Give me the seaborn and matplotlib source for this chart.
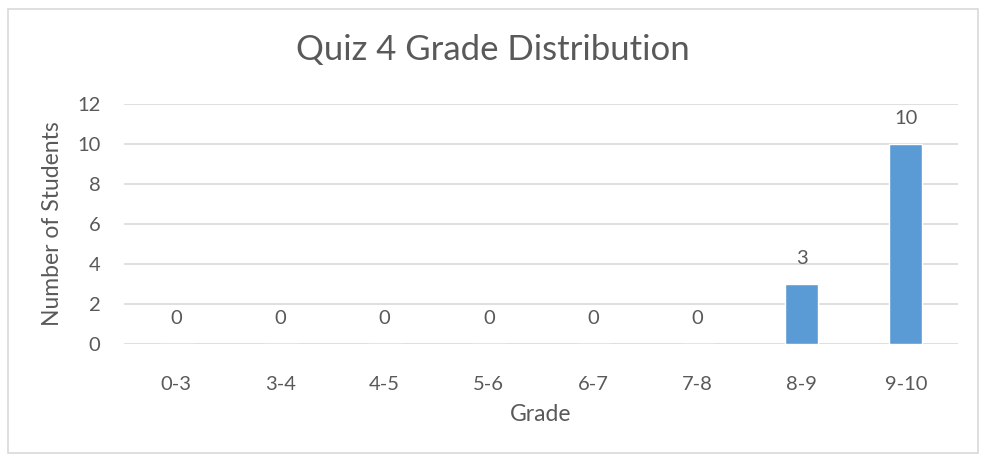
import matplotlib
matplotlib.use("Agg")
import matplotlib.pyplot as plt
import seaborn as sns
import pandas as pd
from matplotlib.patches import Rectangle

categories = ["0-3", "3-4", "4-5", "5-6", "6-7", "7-8", "8-9", "9-10"]
counts = [0, 0, 0, 0, 0, 0, 3, 10]
yticks = [0, 2, 4, 6, 8, 10, 12]
title = "Quiz 4 Grade Distribution"
xlabel = "Grade"
ylabel = "Number of Students"

sns.set_theme(style="white")
plt.rcParams['font.family'] = ['Lato', 'DejaVu Sans']

TXT = "#595959"
GRID = "#D9D9D9"
BAR = "#5B9BD5"

df = pd.DataFrame({"Grade": categories, "Count": counts})

fig = plt.figure(figsize=(9.86, 4.62), dpi=100)
ax = fig.add_axes([124/986, 118/462, (958-124)/986, (344-104)/462])

sns.barplot(data=df, x="Grade", y="Count", color=BAR, width=0.315,
            saturation=1, ax=ax, zorder=3)

ax.set_ylim(0, 12)
ax.set_xlim(-0.5, len(categories) - 0.5)
ax.set_yticks(yticks)
ax.set_yticklabels([str(t) for t in yticks])
ax.yaxis.grid(True, color=GRID, linewidth=1.2, zorder=0)
ax.set_axisbelow(True)
for s in ax.spines.values():
    s.set_visible(False)
ax.tick_params(axis='both', length=0, colors=TXT, labelsize=14.5)
ax.tick_params(axis='x', pad=23)
ax.tick_params(axis='y', pad=17)

ax.set_xlabel(xlabel, fontsize=16.5, color=TXT, labelpad=8)
ax.set_ylabel(ylabel, fontsize=16.5, color=TXT, labelpad=10)

for i, v in enumerate(counts):
    ax.annotate(str(v), (i, v), xytext=(0, 12), textcoords="offset points",
                ha="center", va="bottom", fontsize=14.5, color=TXT)

fig.text(0.5, 1 - 50/462, title, ha="center", va="center", fontsize=25, color=TXT)

fig.patches.append(Rectangle((8/986, 9/462), 970/986, 444/462, transform=fig.transFigure,
                             fill=False, edgecolor=GRID, linewidth=1.2))

fig.savefig("out.png", dpi=100, facecolor="white")
